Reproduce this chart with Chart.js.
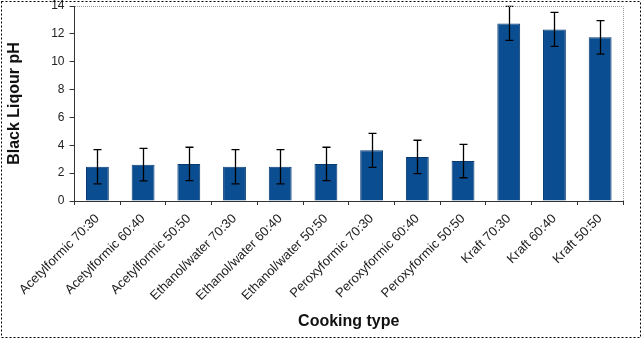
<!DOCTYPE html>
<html>
<head>
<meta charset="utf-8">
<script src="https://cdn.jsdelivr.net/npm/chart.js@4"></script>
<style>
  html, body { margin: 0; padding: 0; background: #fff; }
  #wrap { width: 641px; height: 339px; position: relative; }
</style>
</head>
<body>
<div id="wrap"><canvas id="myChart"></canvas></div>
<script>
const categories = [
    'Acetylformic 70:30', 'Acetylformic 60:40', 'Acetylformic 50:50',
    'Ethanol/water 70:30', 'Ethanol/water 60:40', 'Ethanol/water 50:50',
    'Peroxyformic 70:30', 'Peroxyformic 60:40', 'Peroxyformic 50:50',
    'Kraft 70:30', 'Kraft 60:40', 'Kraft 50:50'
];
const phValues = [2.46, 2.61, 2.66, 2.46, 2.46, 2.66, 3.64, 3.16, 2.87, 12.75, 12.32, 11.75];
const phErrors = [1.23, 1.17, 1.2, 1.23, 1.23, 1.2, 1.22, 1.2, 1.2, 1.22, 1.22, 1.2];
const yTicks = [0, 2, 4, 6, 8, 10, 12, 14];

const graph = document.querySelector('#myChart');

// error bars + plot frame + outer dotted border
const extras = {
    id: 'extras',
    afterDatasetsDraw(chart) {
        const ctx = chart.ctx;
        const x = chart.scales.x;
        const y = chart.scales.y;
        const area = chart.chartArea;

        ctx.save();
        ctx.strokeStyle = '#000';
        ctx.lineWidth = 1.3;
        phValues.forEach((v, i) => {
            const cx = Math.round(x.getPixelForValue(i)) + 0.5;
            const top = y.getPixelForValue(v + phErrors[i]);
            const bot = y.getPixelForValue(v - phErrors[i]);
            ctx.beginPath();
            ctx.moveTo(cx, top);
            ctx.lineTo(cx, bot);
            ctx.moveTo(cx - 4, top);
            ctx.lineTo(cx + 4, top);
            ctx.moveTo(cx - 4, bot);
            ctx.lineTo(cx + 4, bot);
            ctx.stroke();
        });

        // dotted frame top and right
        ctx.strokeStyle = '#999';
        ctx.lineWidth = 1;
        ctx.setLineDash([1, 1]);
        ctx.beginPath();
        ctx.moveTo(Math.round(area.left), Math.round(area.top) + 0.5);
        ctx.lineTo(Math.round(area.right) + 0.5, Math.round(area.top) + 0.5);
        ctx.lineTo(Math.round(area.right) + 0.5, Math.round(area.bottom));
        ctx.stroke();

        // outer border
        ctx.strokeStyle = '#000';
        ctx.setLineDash([2, 2]);
        ctx.strokeRect(1.5, 1.5, chart.width - 2, chart.height - 3);
        ctx.restore();
    }
};

const graphPH = new Chart(graph, {
    type: 'bar',
    data: {
        labels: categories,
        datasets: [{
            label: 'Black Liqour pH',
            data: phValues,
            backgroundColor: '#0b4d91',
            borderColor: '#073a70',
            borderWidth: 1,
            barPercentage: 0.5,
            categoryPercentage: 1
        }]
    },
    options: {
        responsive: true,
        maintainAspectRatio: false,
        animation: false,
        layout: {
            padding: { left: 5, right: 18, top: 6, bottom: 8 }
        },
        scales: {
            x: {
                offset: true,
                afterFit: (scale) => {
                    scale.paddingLeft = 0;
                    scale.paddingRight = 0;
                },
                grid: {
                    offset: true,
                    drawOnChartArea: false,
                    drawTicks: true,
                    tickLength: 4,
                    color: '#333'
                },
                border: { color: '#333', width: 1 },
                ticks: {
                    minRotation: 45,
                    maxRotation: 45,
                    color: '#222',
                    padding: 6,
                    font: { family: 'Liberation Sans, Arial', size: 13 }
                },
                title: {
                    display: true,
                    text: 'Cooking type',
                    color: '#111',
                    padding: { top: 2, bottom: 0 },
                    font: { family: 'Liberation Sans, Arial', size: 16, weight: 'bold' }
                }
            },
            y: {
                min: 0,
                max: 14,
                afterBuildTicks: (axis) => {
                    axis.ticks = yTicks.map(v => ({ value: v }));
                },
                afterFit: (scale) => {
                    scale.paddingTop = 0;
                    scale.paddingBottom = 0;
                },
                grid: {
                    drawOnChartArea: false,
                    drawTicks: true,
                    tickLength: 5,
                    color: '#333'
                },
                border: { color: '#333', width: 1 },
                ticks: {
                    color: '#222',
                    padding: 5,
                    font: { family: 'Liberation Sans, Arial', size: 12 }
                },
                title: {
                    display: true,
                    text: 'Black Liqour pH',
                    color: '#111',
                    padding: { top: 0, bottom: 22 },
                    font: { family: 'Liberation Sans, Arial', size: 16, weight: 'bold' }
                }
            }
        },
        plugins: {
            legend: { display: false },
            tooltip: { enabled: false }
        }
    },
    plugins: [extras]
});
</script>
</body>
</html>
